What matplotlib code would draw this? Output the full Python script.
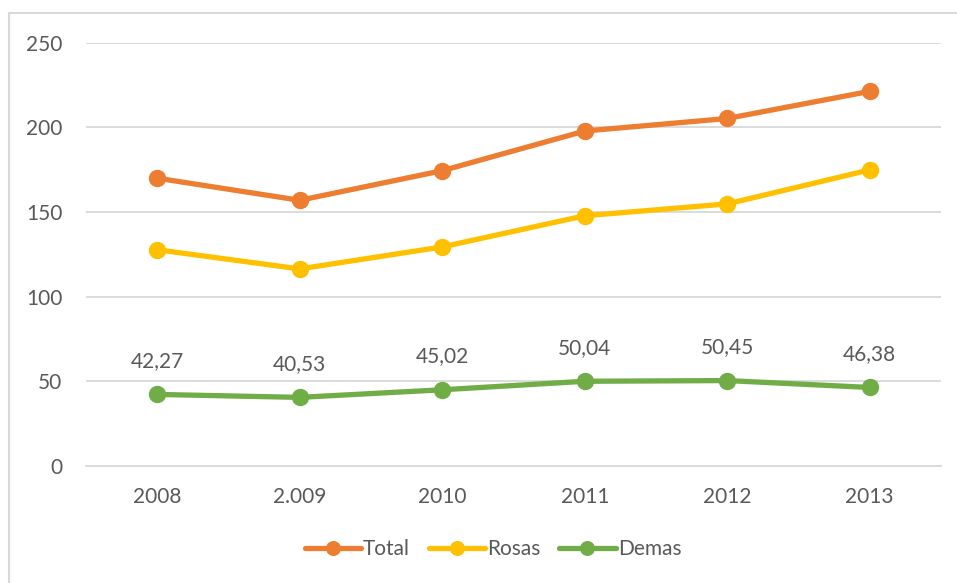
import numpy as np
import matplotlib.pyplot as plt
from matplotlib.lines import Line2D

# === 数据 ===
years = ['2008', '2.009', '2010', '2011', '2012', '2013']
rosas = [127.7, 116.4, 129.4, 147.8, 154.8, 174.9]
demas = [42.27, 40.53, 45.02, 50.04, 50.45, 46.38]
total = [169.97, 156.93, 174.42, 197.84, 205.25, 221.28]
demas_labels = ['42,27', '40,53', '45,02', '50,04', '50,45', '46,38']

plt.rcParams['font.family'] = ['Lato', 'DejaVu Sans']
txt = '#595959'

fig = plt.figure(figsize=(9.57, 5.83), dpi=100)
ax = fig.add_axes([86 / 957, 1 - 466 / 583, 855 / 957, (466 - 42.7) / 583])

# 外框（只有上边和左边可见）
fig.add_artist(Line2D([9 / 957, 9 / 957], [0, 1 - 13 / 583], transform=fig.transFigure,
                      color='#d9d9d9', lw=1.5))
fig.add_artist(Line2D([9 / 957, 1], [1 - 13 / 583, 1 - 13 / 583], transform=fig.transFigure,
                      color='#d9d9d9', lw=1.5))

x = np.arange(len(years))
series = [('Total', total, '#ed7d31'), ('Rosas', rosas, '#ffc000'), ('Demas', demas, '#70ad47')]
for name, vals, c in series:
    ax.plot(x, vals, color=c, lw=3.8, marker='o', ms=11.5, label=name, solid_capstyle='round')

for xi, v, s in zip(x, demas, demas_labels):
    ax.annotate(s, (xi, v), xytext=(0, 17), textcoords='offset points',
                ha='center', va='bottom', fontsize=15, color=txt)

ax.set_xlim(-0.5, len(years) - 0.5)
ax.set_ylim(0, 250)
ax.set_yticks(range(0, 251, 50))
ax.set_xticks(x)
ax.set_xticklabels(years)
ax.grid(axis='y', color='#d9d9d9', lw=1.3)
ax.set_axisbelow(True)
for s in ['top', 'right', 'left']:
    ax.spines[s].set_visible(False)
ax.spines['bottom'].set_color('#d9d9d9')
ax.spines['bottom'].set_linewidth(1.3)
ax.tick_params(length=0, labelsize=15, labelcolor=txt)
ax.tick_params(axis='x', pad=15)
ax.tick_params(axis='y', pad=17)

ax.legend(loc='center', bbox_to_anchor=(493 / 957, 1 - 549 / 583), bbox_transform=fig.transFigure,
          ncol=3, frameon=False, fontsize=15, labelcolor=txt, handlelength=2.7,
          handletextpad=0.1, columnspacing=0.9, markerscale=0.85)

fig.savefig('out.png', dpi=100)
